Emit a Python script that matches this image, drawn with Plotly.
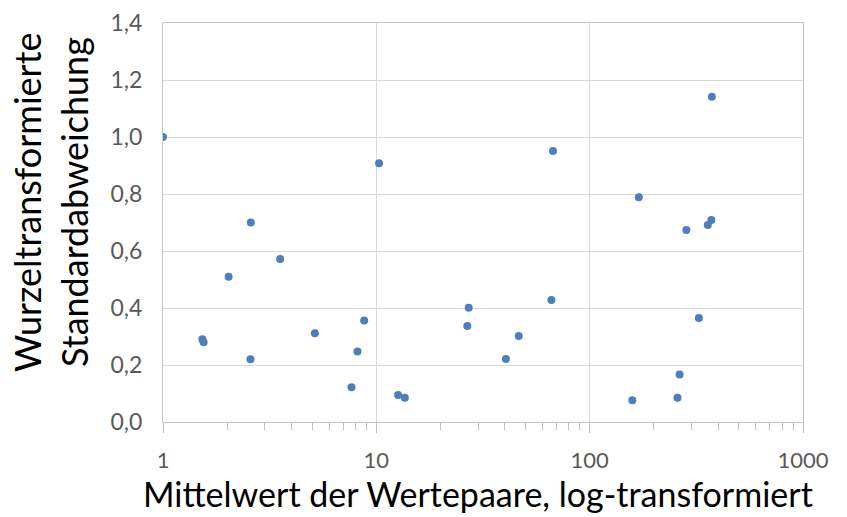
import plotly.graph_objects as go

# Data
mean_values = [1.0, 2.58, 10.3, 374, 67.3, 170, 284, 358, 372,
               1.53, 1.55, 2.03, 2.57, 3.54, 5.15, 8.16, 8.77, 7.65, 12.65, 13.6,
               27.1, 26.7, 66.2, 46.5, 40.5, 325, 264, 258, 158.5]
sd_values = [1.0, 0.70, 0.908, 1.141, 0.951, 0.789, 0.674, 0.691, 0.709,
             0.29, 0.28, 0.51, 0.22, 0.572, 0.311, 0.247, 0.356, 0.122, 0.095, 0.085,
             0.401, 0.337, 0.428, 0.302, 0.221, 0.365, 0.167, 0.085, 0.076]

x_title = "Mittelwert der Wertepaare, log-transformiert"
y_title_lines = ["Wurzeltransformierte", "Standardabweichung"]

FONT = "Lato, 'Open Sans', sans-serif"
GRID = "#D9D9D9"
L, R, T, B = 163, 44, 23, 95
W, H = 847, 517
PW, PH = W - L - R, H - T - B

fig = go.Figure()
fig.add_trace(go.Scatter(
    x=mean_values, y=sd_values, mode="markers",
    marker=dict(size=8, color="#4F7FBA"),
    showlegend=False,
))

fig.update_layout(
    width=W, height=H,
    margin=dict(l=L, r=R, t=T, b=B, autoexpand=False),
    paper_bgcolor="white", plot_bgcolor="white",
    separators=",.",
    font=dict(family=FONT, color="#595959"),
    xaxis=dict(
        type="log", range=[0, 3], dtick=1, automargin=False,
        showgrid=True, gridcolor=GRID, gridwidth=1,
        showline=True, linecolor="#C8C8C8", linewidth=1, mirror=True,
        ticks="outside", ticklen=10, tickcolor="#BFBFBF",
        minor=dict(ticks="outside", ticklen=7, tickcolor="#BFBFBF", dtick="D1", showgrid=False),
        tickfont=dict(family=FONT, size=22, color="#595959"),
        ticklabelstandoff=9,
        zeroline=False,
    ),
    yaxis=dict(
        range=[0, 1.4], dtick=0.2, tickformat=".1f", automargin=False,
        showgrid=True, gridcolor=GRID, gridwidth=1,
        showline=True, linecolor="#C8C8C8", linewidth=1, mirror=True,
        ticks="", ticklabelstandoff=15,
        tickfont=dict(family=FONT, size=23, color="#595959"),
        zeroline=False,
    ),
)

fig.add_annotation(
    text=x_title, showarrow=False, xref="paper", yref="paper",
    x=(478 - L) / PW, y=(422 - 493) / PH, xanchor="center", yanchor="middle",
    font=dict(family=FONT, size=34, color="#000000"),
)

for line, xpx in zip(y_title_lines, [27, 74]):
    fig.add_annotation(
        text=line, textangle=-90, showarrow=False,
        xref="paper", yref="paper",
        x=(xpx - L) / PW, y=(422 - 202) / PH,
        xanchor="center", yanchor="middle",
        font=dict(family=FONT, size=36, color="#000000"),
    )

fig.write_html("out.html", config={"displayModeBar": False},
               post_script="document.body.style.margin='0px';")
